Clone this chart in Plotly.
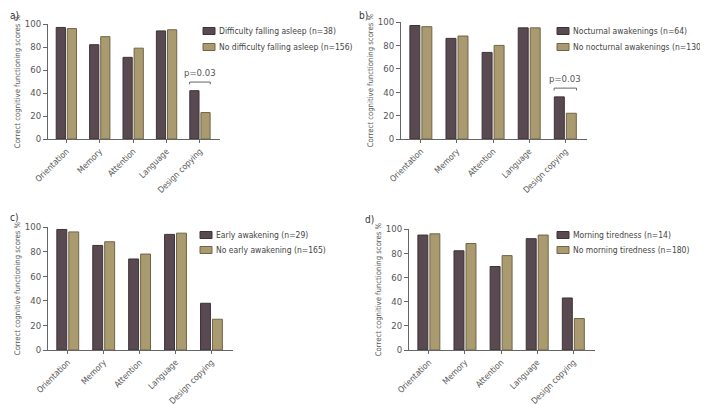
import plotly.graph_objs as go

categories = ["Orientation", "Memory", "Attention", "Language", "Design copying"]

a_names = ["Difficulty falling asleep (n=38)", "No difficulty falling asleep (n=156)"]
a_with = [97, 82, 71, 94, 42]
a_without = [96, 89, 79, 95, 23]

b_names = ["Nocturnal awakenings (n=64)", "No nocturnal awakenings (n=130)"]
b_with = [97, 86, 74, 95, 36]
b_without = [96, 88, 80, 95, 22]

c_names = ["Early awakening (n=29)", "No early awakening (n=165)"]
c_with = [98, 85, 74, 94, 38]
c_without = [96, 88, 78, 95, 25]

d_names = ["Morning tiredness (n=14)", "No morning tiredness (n=180)"]
d_with = [95, 82, 69, 92, 43]
d_without = [96, 88, 78, 95, 26]

panel_labels = ["a)", "b)", "c)", "d)"]
p_values = ["p=0.03", "p=0.03", None, None]

# the page body has an 8px margin, so the figure is drawn a bit smaller and
# all screen positions below are shifted by OFF
OFF = 8
W, H = 708 - OFF, 405 - OFF
FONT = "DejaVu Sans Condensed, Roboto Condensed, Roboto, sans-serif"
COLORS = ["#594951", "#a99b6f"]
EDGES = ["#3e3238", "#6f6548"]


def fx(px):
    return (px - OFF) / W


def fy(py):
    return 1 - (py - OFF) / H


# panel boxes in screen pixels: left, right, bottom (y=0), top (y=100)
boxes = [(48, 220, 139, 24), (401, 587, 139, 22), (48, 233, 350, 227), (409, 595, 350, 229)]
# legend: swatch left x, y of first row, y of second row
legend_pos = [(203, 31, 47), (557, 31, 47), (200, 235, 250), (557, 235, 250)]
label_pos = [(8, 8), (357, 8), (8, 210), (363, 212)]

panels = [(a_names, a_with, a_without), (b_names, b_with, b_without),
          (c_names, c_with, c_without), (d_names, d_with, d_without)]

fig = go.Figure()
layout = {}
annotations = []
shapes = []

for i, (names, yes, no) in enumerate(panels):
    n = "" if i == 0 else str(i + 1)
    xa, ya = "x" + n, "y" + n
    lx, ly1, ly2 = legend_pos[i]
    for j, vals in enumerate([yes, no]):
        fig.add_trace(go.Bar(x=list(range(5)), y=vals, name=names[j], xaxis=xa, yaxis=ya,
                             showlegend=False,
                             marker=dict(color=COLORS[j], line=dict(color=EDGES[j], width=1))))
        # legend entry: swatch + label
        ly = [ly1, ly2][j]
        shapes.append(dict(type="rect", xref="paper", yref="paper",
                           x0=fx(lx), x1=fx(lx + 12), y0=fy(ly + 3.5), y1=fy(ly - 3.5),
                           fillcolor=COLORS[j], line=dict(color=EDGES[j], width=1)))
        annotations.append(dict(text=names[j], x=fx(lx + 14), y=fy(ly), xref="paper", yref="paper",
                                xanchor="left", yanchor="middle", showarrow=False,
                                font=dict(family=FONT, size=8.5, color="#444")))
    l, r, b, t = boxes[i]
    layout["xaxis" + n] = dict(
        domain=[fx(l), fx(r)], anchor=ya, range=[-0.55, 4.6],
        tickvals=list(range(5)), ticktext=categories, tickangle=-45,
        showline=True, linecolor="#666", linewidth=1, ticks="outside", ticklen=3,
        tickcolor="#666", showgrid=False, zeroline=False,
        tickfont=dict(family=FONT, size=8.5, color="#555"))
    layout["yaxis" + n] = dict(
        domain=[fy(b), fy(t)], anchor=xa, range=[0, 100],
        tickvals=[0, 20, 40, 60, 80, 100], showline=True, linecolor="#666", linewidth=1,
        ticks="outside", ticklen=4, tickcolor="#666", showgrid=False, zeroline=False,
        tickfont=dict(family=FONT, size=9.5, color="#555"),
        title=dict(text="Correct cognitive functioning scores %", standoff=3,
                   font=dict(family=FONT, size=7.7, color="#555")))
    px_, py_ = label_pos[i]
    annotations.append(dict(text=panel_labels[i], x=fx(px_), y=fy(py_), xref="paper", yref="paper",
                            xanchor="left", yanchor="top", showarrow=False,
                            font=dict(family=FONT, size=10, color="#333")))
    if p_values[i]:
        yb = yes[4] + 7.5
        shapes.append(dict(type="path", xref=xa, yref=ya, line=dict(color="#666", width=1),
                           path=f"M 3.69 {yb - 2} L 3.69 {yb} L 4.31 {yb} L 4.31 {yb - 2}"))
        annotations.append(dict(text=p_values[i], x=4, y=yb + 1.5, xref=xa, yref=ya,
                                xanchor="center", yanchor="bottom", showarrow=False,
                                font=dict(family=FONT, size=9.5, color="#555")))

fig.update_layout(
    width=W, height=H,
    margin=dict(l=0, r=0, t=0, b=0),
    template=None,
    showlegend=False,
    plot_bgcolor="white", paper_bgcolor="white",
    barmode="group", bargap=0.335, bargroupgap=0.17,
    annotations=annotations, shapes=shapes,
    **layout
)

fig.write_html("out.html")
